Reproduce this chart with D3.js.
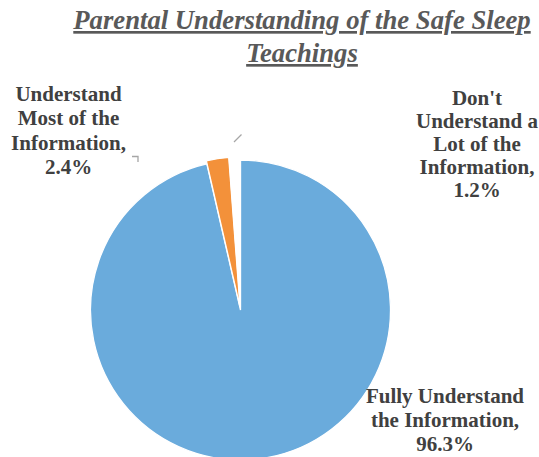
<!DOCTYPE html>
<html><head><meta charset="utf-8">
<script src="https://cdn.jsdelivr.net/npm/d3@7"></script>
</head><body style="margin:0;background:#fff">
<script>
const categories = ["Fully Understand the Information", "Understand Most of the Information", "Don't Understand a Lot of the Information"];
const values = [96.3, 2.4, 1.2];
const labelLines = [
  ["Fully Understand", "the Information,", "96.3%"],
  ["Understand", "Most of the", "Information,", "2.4%"],
  ["Don't", "Understand a", "Lot of the", "Information,", "1.2%"]
];
const colors = ["#6AABDC", "#F3913A", "#FFFFFF"];
const titleLines = ["Parental Understanding of the Safe Sleep", "Teachings"];

const W = 539, H = 457;
const cx = 240.5, cy = 310, R = 150;
const FONT = '"Liberation Serif"';
const svg = d3.select("body").append("svg").attr("width", W).attr("height", H).style("display", "block");

// title
const title = svg.append("text")
  .attr("text-anchor", "middle")
  .style("font-family", FONT)
  .style("font-weight", "bold").style("font-style", "italic")
  .style("font-size", "26.7px").style("fill", "#595959")
  .style("text-decoration", "underline");
titleLines.forEach((t, i) => {
  title.append("tspan").attr("x", 302).attr("y", 29 + i * 33).text(t);
});

const pie = d3.pie().sort(null).value(d => d).startAngle(0).endAngle(2 * Math.PI);
const arcs = pie(values);
const arc = d3.arc().innerRadius(0).outerRadius(R);
const explode = [0, 3, 3];

const g = svg.append("g").attr("transform", `translate(${cx},${cy})`);
g.selectAll("path").data(arcs).join("path")
  .attr("d", arc)
  .attr("transform", (d, i) => {
    const a = (d.startAngle + d.endAngle) / 2;
    return `translate(${Math.sin(a) * explode[i]},${-Math.cos(a) * explode[i]})`;
  })
  .attr("fill", (d, i) => colors[i])
  .attr("stroke", "#fff").attr("stroke-width", 1.3);

// leader lines
svg.append("path").attr("d", "M132,156.5H138V162")
  .attr("fill", "none").attr("stroke", "#A6A6A6").attr("stroke-width", 1.3);
svg.append("path").attr("d", "M234,142L241.5,134.5")
  .attr("fill", "none").attr("stroke", "#A6A6A6").attr("stroke-width", 1.3);

// data labels
const labelPos = [
  { x: 445, y: 403, dy: 24 },
  { x: 68.5, y: 101, dy: 24.3 },
  { x: 477, y: 105, dy: 23 }
];
labelLines.forEach((lines, i) => {
  const t = svg.append("text")
    .attr("text-anchor", "middle")
    .style("font-family", FONT)
    .style("font-weight", "bold").style("font-size", "21px").style("fill", "#404040");
  lines.forEach((l, j) => {
    t.append("tspan").attr("x", labelPos[i].x).attr("y", labelPos[i].y + j * labelPos[i].dy).text(l);
  });
});
</script>
</body></html>
